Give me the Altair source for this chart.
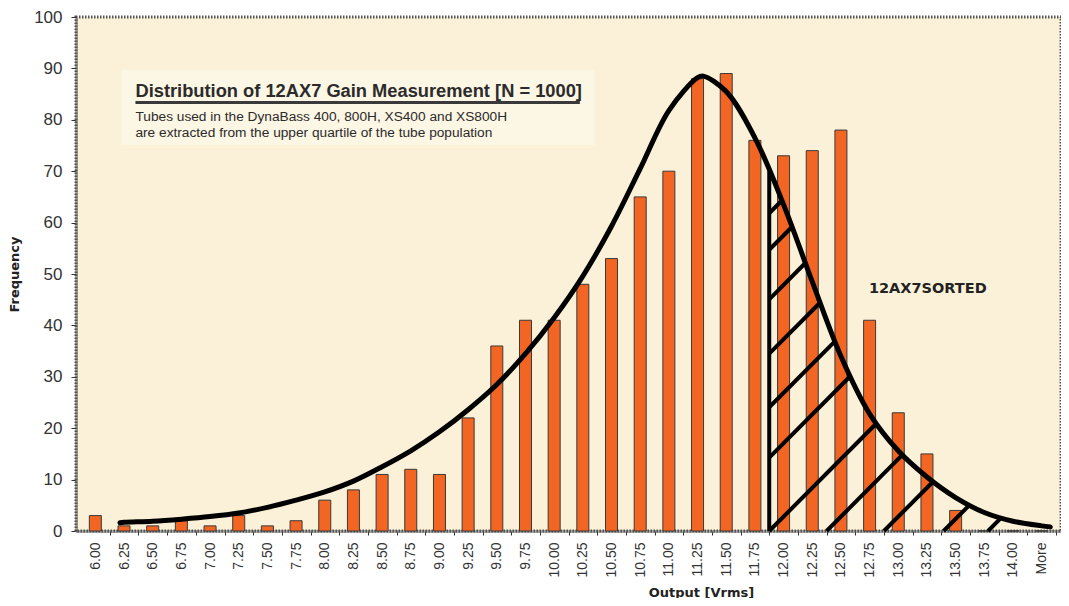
import altair as alt
import pandas as pd
import numpy as np

# ---------------- data ----------------
categories = ["6.00", "6.25", "6.50", "6.75", "7.00", "7.25", "7.50", "7.75",
              "8.00", "8.25", "8.50", "8.75", "9.00", "9.25", "9.50", "9.75",
              "10.00", "10.25", "10.50", "10.75", "11.00", "11.25", "11.50", "11.75",
              "12.00", "12.25", "12.50", "12.75", "13.00", "13.25", "13.50", "13.75",
              "14.00", "More"]
counts = [3, 1, 1, 2, 1, 3, 1, 2,
          6, 8, 11, 12, 11, 22, 36, 41,
          41, 48, 53, 65, 70, 88, 89, 76,
          73, 74, 78, 41, 23, 15, 4, 0,
          0, 0]

# fitted curve drawn over the histogram (position in category units, frequency)
curve_pos = [0.86, 1, 2, 3, 4, 5, 6, 7, 8, 9, 10, 11, 12, 13, 14, 15, 16, 17,
             18, 19, 20, 21, 21.2, 22, 23, 24, 25, 26, 27, 28, 29, 30, 31, 32, 33, 33.3]
curve_vals = [1.6, 1.7, 1.9, 2.3, 2.8, 3.5, 4.6, 6.0, 7.6, 9.7, 12.5, 15.6, 19.3,
              23.6, 28.5, 34.5, 41.5, 49.6, 59.3, 70.5, 81.8, 88.2, 88.5, 85.5, 76.5,
              63.5, 48.5, 34.0, 22.8, 15.6, 10.5, 6.5, 3.6, 1.9, 1.0, 0.8]

# upper-quartile region starts between "11.75" and "12.00"
sorted_cut = categories.index("12.00") - 0.5
# hatch lines: where each line meets the baseline (category units)
hatch_base = [12.46, 13.73, 15.45, 17.34, 19.2, 20.95, 23.5, 25.5, 27.5, 29.58, 31.13]
hatch_slope = 5.6   # frequency per category step

title_text = "Distribution of 12AX7 Gain Measurement [N = 1000]"
sub_lines = ["Tubes used in the DynaBass 400, 800H, XS400 and XS800H",
             "are extracted from the upper quartile of the tube population"]
region_label = "12AX7SORTED"

# ---------------- layout ----------------
W, H = 985, 514
TOP = 9
n = len(categories)
step = W / n

xscale = alt.Scale(domain=[-0.5, n - 0.5], nice=False, zero=False)
yscale = alt.Scale(domain=[0, 100], nice=False, zero=True)

label_expr = "[" + ",".join("'%s'" % c for c in categories) + "][datum.value]"

x_axis = alt.Axis(
    values=list(range(n)), labelExpr=label_expr, labelAngle=270,
    labelFont="Liberation Sans", labelFontSize=14, labelColor="#333333",
    labelOverlap=False, labelFlush=False,
    tickOffset=step / 2, labelOffset=-step / 2, tickSize=4, tickColor="#333333",
    labelPadding=7, grid=False,
    domainColor="#555555", domainWidth=3, domainDash=[1, 1],
    title="Output [Vrms]", titleFont="DejaVu Sans", titleFontSize=13,
    titleFontWeight="bold", titleColor="#222222",
    titleX=625, titleY=61, titleAlign="center", titleBaseline="middle",
)
y_axis = alt.Axis(
    values=list(range(0, 101, 10)), labelFont="Liberation Sans", labelFontSize=17,
    labelColor="#333333", tickSize=5, tickColor="#333333", labelPadding=9,
    grid=False, domainColor="#555555", domainWidth=3, domainDash=[1, 1],
    title="Frequency", titleFont="DejaVu Sans", titleFontSize=13,
    titleFontWeight="bold", titleColor="#222222",
    titleX=-62, titleY=H / 2, titleAngle=270, titleAlign="center", titleBaseline="middle",
)


def X(f):
    return alt.X(f, type="quantitative", scale=xscale, axis=x_axis)


def Y(f):
    return alt.Y(f, type="quantitative", scale=yscale, axis=y_axis)


def to_x(px):   # pixel (page) -> category units, for annotations
    return (px - 76 - step / 2) / step


def to_y(py):   # pixel (page) -> frequency, for annotations
    return (8 + TOP + H - py) * 100 / H


# ---------------- tables ----------------
bars_df = pd.DataFrame({"pos": list(range(n)), "count": counts, "cat": categories})
curve_df = pd.DataFrame({"pos": curve_pos, "val": curve_vals})

cx = np.array(curve_pos)
cy = np.array(curve_vals)
cut_top = float(np.interp(sorted_cut, cx, cy))
cut_df = pd.DataFrame({"pos": [sorted_cut], "y0": [0.0], "y1": [cut_top]})

rows = []
for i, c in enumerate(hatch_base):
    x0 = max(c, sorted_cut)
    y0 = hatch_slope * (x0 - c)
    if y0 >= float(np.interp(x0, cx, cy)):
        continue
    xs = np.linspace(x0, cx[-1], 4000)
    diff = hatch_slope * (xs - c) - np.interp(xs, cx, cy)
    k = int(np.argmax(diff >= 0))
    x1 = float(xs[k])
    y1 = hatch_slope * (x1 - c)
    rows.append({"line": i, "pos": x0, "val": y0})
    rows.append({"line": i, "pos": x1, "val": y1})
hatch_df = pd.DataFrame(rows)

box_df = pd.DataFrame({"x": [to_x(117)], "x2": [to_x(595)], "y": [to_y(70)], "y2": [to_y(145)]})
uline_df = pd.DataFrame({"x": [to_x(131)], "x2": [to_x(580)], "y": [to_y(102.5)]})
title_df = pd.DataFrame({"x": [to_x(131)], "y": [to_y(96.7)], "t": [title_text]})
sub_df = pd.DataFrame({"x": [to_x(131)] * 2, "y": [to_y(120.5), to_y(137)], "t": sub_lines})
lab_df = pd.DataFrame({"x": [to_x(872)], "y": [to_y(292.5)], "t": [region_label]})

# ---------------- layers ----------------
box = alt.Chart(box_df).mark_rect(color="#FCF6E4").encode(
    x=X("x"), x2="x2", y=Y("y"), y2="y2")

bars = alt.Chart(bars_df).mark_bar(size=12, color="#F26522", stroke="#3a3a3a",
                                   strokeWidth=1).encode(
    x=X("pos"), y=Y("count"), tooltip=["cat", "count"])

curve = alt.Chart(curve_df).mark_line(color="black", strokeWidth=5,
                                      interpolate="catmull-rom", strokeCap="round").encode(
    x=X("pos"), y=Y("val"))

cut = alt.Chart(cut_df).mark_rule(color="black", strokeWidth=4).encode(
    x=X("pos"), y=Y("y0"), y2="y1")

hatch = alt.Chart(hatch_df).mark_line(color="black", strokeWidth=4).encode(
    x=X("pos"), y=Y("val"), detail="line:N")

uline = alt.Chart(uline_df).mark_rule(color="#3a3a3a", strokeWidth=3).encode(
    x=X("x"), x2="x2", y=Y("y"))

title = alt.Chart(title_df).mark_text(align="left", baseline="alphabetic",
                                      font="Liberation Sans", fontSize=18.3,
                                      fontWeight="bold", color="#2b2b2b").encode(
    x=X("x"), y=Y("y"), text="t:N")

sub = alt.Chart(sub_df).mark_text(align="left", baseline="alphabetic",
                                  font="Liberation Sans", fontSize=13.7,
                                  color="#2b2b2b").encode(
    x=X("x"), y=Y("y"), text="t:N")

lab = alt.Chart(lab_df).mark_text(align="left", baseline="alphabetic",
                                  font="DejaVu Sans", fontSize=14.5, fontWeight="bold",
                                  color="#222222").encode(
    x=X("x"), y=Y("y"), text="t:N")

chart = alt.layer(box, bars, curve, cut, hatch, uline, title, sub, lab).properties(
    width=W, height=H,
    autosize=alt.AutoSizeParams(type="none"),
    padding={"left": 68, "top": TOP, "right": 0, "bottom": 67},
    background="white",
).configure_view(
    fill="#FAF1D8", stroke="#555555", strokeDash=[1.5, 1.5], strokeWidth=3
)

chart.save("out.html", embed_options={"renderer": "svg", "actions": False})
